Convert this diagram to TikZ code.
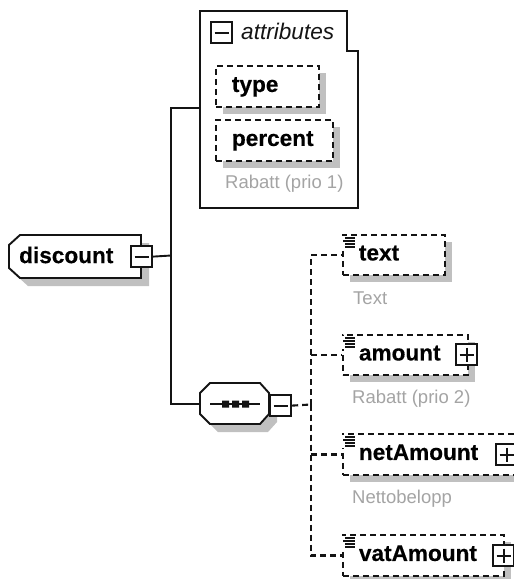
\documentclass[tikz,border=0pt]{standalone}
\usepackage{fontspec}
\setmainfont{Liberation Sans}
\newfontfamily\heavyfont[BoldFeatures={FakeBold=0.4}]{Liberation Sans}
\usetikzlibrary{calc}
\definecolor{shadowgray}{HTML}{C0C0C0}
\definecolor{ink}{HTML}{141414}
\definecolor{note}{HTML}{A4A4A4}
\tikzset{
  wire/.style={draw=ink,line width=1.9pt},
  dashwire/.style={draw=ink,line width=2.1pt,dash pattern=on 6pt off 4pt},
  outline/.style={draw=ink,line width=1.9pt,fill=white},
  ebox/.style={anchor=north west,inner ysep=0pt,inner xsep=16pt,align=left,
    draw=ink,line width=1.9pt,dash pattern=on 6pt off 4pt,fill=white,
    font=\fontsize{22.6}{24}\selectfont\heavyfont\bfseries,text height=16pt,text depth=5pt},
  toggle/.style={draw=ink,line width=2.2pt,fill=white,minimum width=21pt,minimum height=21pt,inner sep=0pt,anchor=north west},
  notetext/.style={anchor=west,inner sep=0pt,text=note,font=\fontsize{18.5}{20}\selectfont},
}
\newcommand{\elembox}[6]{% name x y w h text
  \fill[shadowgray] (#2+8,#3+8) rectangle (#2+#4+8,#3+#5+8);
  \node[ebox,minimum width=#4pt,minimum height=#5pt,text width=#4pt-32pt] (#1) at (#2,#3) {#6};
}
\newcommand{\minusmark}[1]{\draw[ink,line width=2pt] ($(#1.center)+(-7,0)$) -- ($(#1.center)+(7,0)$);}
\newcommand{\plusmark}[1]{\draw[ink,line width=2pt] ($(#1.center)+(-7,0)$) -- ($(#1.center)+(7,0)$) ($(#1.center)+(0,-7)$) -- ($(#1.center)+(0,7)$);}
\newcommand{\listicon}[2]{%
  \fill[white] (#1-1,#2-1) rectangle (#1+15,#2+12);
  \draw[ink,line width=1.2pt] (#1+3,#2+1) -- (#1+13,#2+1) (#1+1,#2+4) -- (#1+13,#2+4) (#1+3,#2+7) -- (#1+13,#2+7) (#1+3,#2+10) -- (#1+13,#2+10);
}
\begin{document}
\begin{tikzpicture}[x=1pt,y=-1pt]
\useasboundingbox (0,0) rectangle (514,579);
\clip (0,0) rectangle (514,579);
\fill[white] (0,0) rectangle (514,579);

% attributes group
\draw[outline] (200,11) -- (347,11) -- (347,51) -- (358,51) -- (358,208) -- (200,208) -- cycle;
\coordinate (attrleft) at (200,108);
\node[toggle] (attrtoggle) at (210,21) {};
\minusmark{attrtoggle}
\node[anchor=west,inner sep=0pt,text=ink,font=\fontsize{22.6}{24}\selectfont\itshape] (attrlabel) at (241,31) {attributes};
\elembox{type}{215}{65}{103}{41}{type}
\elembox{percent}{215}{119}{117}{41}{percent}
\node[notetext] (rabatt1) at (225,184) {Rabatt (prio 1)};

% root element
\fill[shadowgray] (28,243) -- (149,243) -- (149,286) -- (28,286) -- (17,276) -- (17,253) -- cycle;
\draw[outline] (20,235) -- (141,235) -- (141,278) -- (20,278) -- (9,268) -- (9,245) -- cycle;
\node[anchor=west,inner sep=0pt,text=black,font=\fontsize{22.6}{24}\selectfont\heavyfont\bfseries] (discount) at (19,255) {discount};
\node[toggle] (roottoggle) at (130,245) {};
\minusmark{roottoggle}

% sequence compositor
\fill[shadowgray] (218,391) -- (268,391) -- (277,401) -- (277,422) -- (268,432) -- (218,432) -- (208,422) -- (208,401) -- cycle;
\draw[outline] (210,383) -- (260,383) -- (269,393) -- (269,414) -- (260,424) -- (210,424) -- (200,414) -- (200,393) -- cycle;
\coordinate (seqleft) at (200,404);
\draw[wire] (210,404) -- (260,404);
\fill[ink] (222,400.5) rectangle (229,407.5) (232,400.5) rectangle (239,407.5) (242,400.5) rectangle (249,407.5);
\node[toggle] (seqtoggle) at (269,394) {};
\minusmark{seqtoggle}

% root connectors
\coordinate (trunk) at (171,255.5);
\draw[wire] (roottoggle.east) -- (trunk);
\draw[wire] (trunk) |- (attrleft);
\draw[wire] (trunk) |- (seqleft);

% children
\elembox{text}{342}{234}{102}{40}{text}
\node[notetext] (textnote) at (353,298) {Text};
\elembox{amount}{342}{334}{125}{40}{amount}
\node[notetext] (amountnote) at (352,399) {Rabatt (prio 2)};
\elembox{netAmount}{342}{433}{175}{41}{netAmount}
\node[notetext] (netnote) at (352,499) {Nettobelopp};
\elembox{vatAmount}{342}{534}{161}{41}{vatAmount}

\node[toggle] (amounttoggle) at (455,343) {};
\plusmark{amounttoggle}
\node[toggle] (nettoggle) at (495,443) {};
\plusmark{nettoggle}
\node[toggle] (vattoggle) at (492,544) {};
\plusmark{vattoggle}

\listicon{342}{237}
\listicon{342}{337}
\listicon{342}{436}
\listicon{342}{537}

% dashed bus
\coordinate (bus) at (311,404.5);
\draw[dashwire] (seqtoggle.east) -- (bus);
\draw[dashwire] (bus) |- (text.west);
\draw[dashwire] (bus) |- (amount.west);
\draw[dashwire] (bus) |- (netAmount.west);
\draw[dashwire] (bus) |- (vatAmount.west);
\end{tikzpicture}
\end{document}
